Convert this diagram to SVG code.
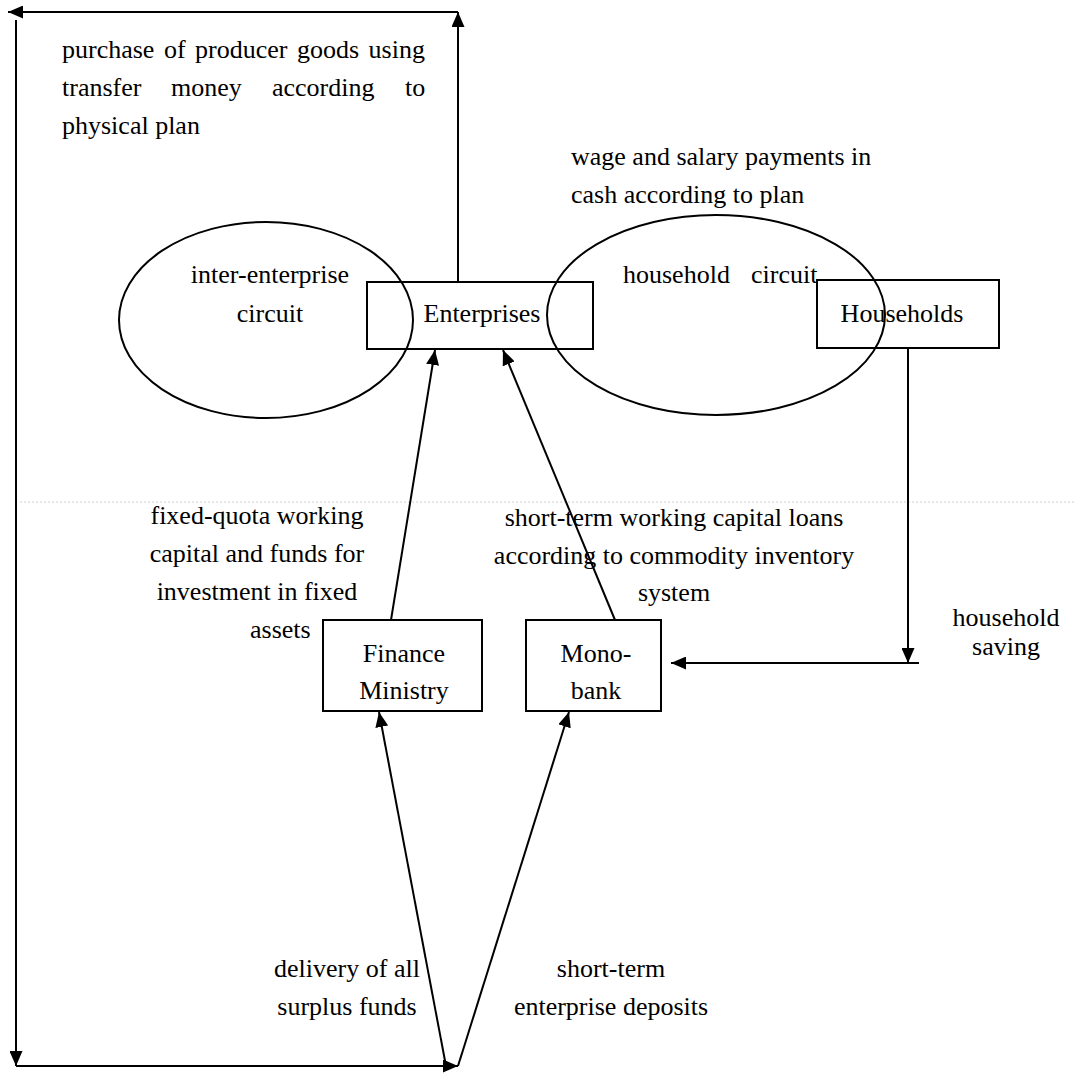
<svg xmlns="http://www.w3.org/2000/svg" width="1074" height="1077" viewBox="0 0 1074 1077">
<defs>
<marker id="ah" viewBox="0 0 15 13" refX="15" refY="6.5" markerWidth="15" markerHeight="13" markerUnits="userSpaceOnUse" orient="auto">
<path d="M0,0 L15,6.5 L0,13 z" fill="#000"/>
</marker>
<style>
text{font-family:"Liberation Serif","Times New Roman",serif;font-size:26px;fill:#000}
.c{text-anchor:middle}
.shape{fill:none;stroke:#000;stroke-width:2}
.con{fill:none;stroke:#000;stroke-width:2}
.arr{marker-end:url(#ah)}
</style>
</defs>
<rect width="1074" height="1077" fill="#fff"/>
<line x1="20" y1="502" x2="1074" y2="502" stroke="#d0d0d0" stroke-width="1" stroke-dasharray="2,2"/>

<g id="inter-enterprise-circuit">
<ellipse class="shape" cx="266" cy="320" rx="147" ry="98"/>
<text class="c" x="270" y="283">inter-enterprise</text>
<text class="c" x="270" y="322">circuit</text>
</g>
<g id="household-circuit">
<ellipse class="shape" cx="716" cy="315" rx="169" ry="100"/>
<text x="623" y="283">household<tspan x="751">circuit</tspan></text>
</g>
<g id="enterprises">
<rect class="shape" x="367" y="282" width="226" height="67"/>
<text class="c" x="482" y="322">Enterprises</text>
</g>
<g id="households">
<rect class="shape" x="817" y="280" width="182" height="68"/>
<text class="c" x="902" y="322">Households</text>
</g>
<g id="finance-ministry">
<rect class="shape" x="323" y="620" width="159" height="91"/>
<text class="c" x="404" y="662">Finance</text>
<text class="c" x="404" y="699">Ministry</text>
</g>
<g id="mono-bank">
<rect class="shape" x="526" y="620" width="135" height="91"/>
<text class="c" x="596" y="662">Mono-</text>
<text class="c" x="596" y="699">bank</text>
</g>

<g id="connectors">
<line class="con arr" x1="458" y1="282" x2="458" y2="12"/>
<line class="con arr" x1="458" y1="12" x2="8" y2="12"/>
<line class="con arr" x1="16" y1="20" x2="16" y2="1066"/>
<line class="con arr" x1="16" y1="1066" x2="458" y2="1066"/>
<line class="con arr" x1="446" y1="1066" x2="379" y2="712"/>
<line class="con arr" x1="458" y1="1066" x2="569" y2="712"/>
<line class="con arr" x1="391" y1="620" x2="435" y2="350"/>
<line class="con arr" x1="615" y1="620" x2="503" y2="350"/>
<line class="con arr" x1="908" y1="348" x2="908" y2="663"/>
<line class="con arr" x1="919" y1="663" x2="671" y2="663"/>
</g>

<g id="labels">
<text x="62" y="58" word-spacing="3">purchase of producer goods using</text>
<text y="96"><tspan x="62">transfer</tspan><tspan x="171">money</tspan><tspan x="272">according</tspan><tspan x="405">to</tspan></text>
<text x="62" y="134">physical plan</text>
<text x="571" y="165">wage and salary payments in</text>
<text x="571" y="203">cash according to plan</text>
<text class="c" x="257" y="524">fixed-quota working</text>
<text class="c" x="257" y="562">capital and funds for</text>
<text class="c" x="257" y="600">investment in fixed</text>
<text x="250" y="638">assets</text>
<text class="c" x="674" y="526">short-term working capital loans</text>
<text class="c" x="674" y="564">according to commodity inventory</text>
<text class="c" x="674" y="601">system</text>
<text class="c" x="1006" y="626">household</text>
<text class="c" x="1006" y="655">saving</text>
<text class="c" x="347" y="977">delivery of all</text>
<text class="c" x="347" y="1015">surplus funds</text>
<text class="c" x="611" y="977">short-term</text>
<text class="c" x="611" y="1015">enterprise deposits</text>
</g>
</svg>
